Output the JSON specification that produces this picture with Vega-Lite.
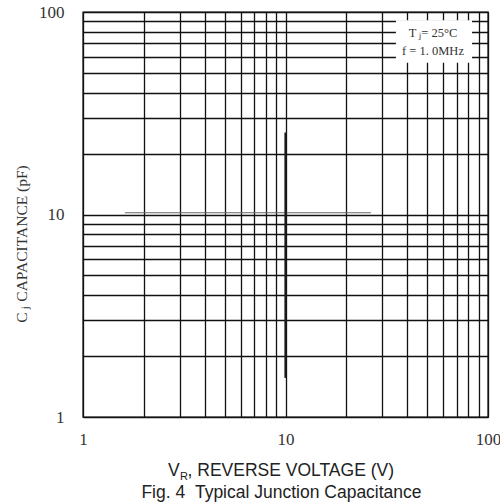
{
  "$schema": "https://vega.github.io/schema/vega-lite/v6.json",
  "width": 405,
  "height": 405,
  "autosize": {"type": "none"},
  "padding": {"left": 83, "top": 12, "right": 12, "bottom": 86},
  "background": "white",
  "config": {
    "view": {"stroke": "#111", "strokeWidth": 1.4},
    "axis": {
      "grid": true,
      "gridColor": "#111",
      "gridWidth": 1.3,
      "gridOpacity": 1,
      "ticks": false,
      "domain": false,
      "labelFont": "Liberation Serif",
      "labelFontSize": 17,
      "labelColor": "#333",
      "labelOverlap": false,
      "labelFlush": false,
      "titleFontWeight": "normal"
    }
  },
  "datasets": {
    "box": [{"v": 35.1, "v2": 83.4, "c": 91.1, "c2": 56.2}],
    "vseg": [{"v": 10, "v2": 10, "c": 1.56, "c2": 25.4}],
    "hseg": [{"v": 1.61, "v2": 26.4, "c": 10.2, "c2": 10.2}],
    "legend": [
      {"v": 53.5, "c": 79.2, "label": "T ⱼ= 25°C"},
      {"v": 53.5, "c": 64.0, "label": "f = 1. 0MHz"}
    ],
    "xtitle": [
      {"v": 2.629, "c": 1, "label": "V", "align": "left"},
      {"v": 34.35, "c": 1, "label": ", REVERSE VOLTAGE (V)", "align": "right"}
    ],
    "xsub": [{"v": 3.013, "c": 1, "label": "R"}],
    "caption": [{"v": 9.555, "c": 1, "label": "Fig. 4\u00a0\u00a0Typical Junction Capacitance"}]
  },
  "encoding": {
    "x": {
      "field": "v", "type": "quantitative",
      "scale": {"type": "log", "domain": [1, 100], "nice": false},
      "axis": {
        "values": [1, 2, 3, 4, 5, 6, 7, 8, 9, 10, 20, 30, 40, 50, 60, 70, 80, 90, 100],
        "format": "d",
        "labelExpr": "(datum.value == 1 || datum.value == 10 || datum.value == 100) ? datum.label : ''",
        "labelPadding": 14,
        "title": null
      }
    },
    "y": {
      "field": "c", "type": "quantitative",
      "scale": {"type": "log", "domain": [1, 100], "nice": false},
      "axis": {
        "values": [1, 2, 3, 4, 5, 6, 7, 8, 9, 10, 20, 30, 40, 50, 60, 70, 80, 90, 100],
        "format": "d",
        "labelExpr": "(datum.value == 1 || datum.value == 10 || datum.value == 100) ? datum.label : ''",
        "labelPadding": 19,
        "title": "C ⱼ CAPACITANCE (pF)",
        "titleFont": "Liberation Serif",
        "titleFontSize": 15.5,
        "titleColor": "#333",
        "titleX": -62,
        "titleY": 231.5,
        "titleBaseline": "middle",
        "titleAlign": "center",
        "titleAngle": 270
      }
    }
  },
  "layer": [
    {
      "data": {"name": "box"},
      "mark": {"type": "rect", "fill": "white", "stroke": null},
      "encoding": {
        "x2": {"field": "v2"},
        "y2": {"field": "c2"}
      }
    },
    {
      "data": {"name": "hseg"},
      "mark": {"type": "rule", "color": "#666", "strokeWidth": 1.2},
      "encoding": {
        "x2": {"field": "v2"},
        "y2": {"field": "c2"}
      }
    },
    {
      "data": {"name": "vseg"},
      "mark": {"type": "rule", "color": "#1a1a1a", "strokeWidth": 2.2},
      "encoding": {
        "x2": {"field": "v2"},
        "y2": {"field": "c2"}
      }
    },
    {
      "data": {"name": "legend"},
      "mark": {"type": "text", "font": "Liberation Serif", "fontSize": 12.5, "color": "#333", "align": "center", "baseline": "middle"},
      "encoding": {
        "text": {"field": "label"}
      }
    },
    {
      "data": {"name": "xtitle"},
      "transform": [{"filter": "datum.align == 'left'"}],
      "mark": {"type": "text", "font": "Liberation Sans", "fontSize": 17.5, "color": "#222", "align": "left", "baseline": "alphabetic", "dy": 59},
      "encoding": {
        "text": {"field": "label"}
      }
    },
    {
      "data": {"name": "xtitle"},
      "transform": [{"filter": "datum.align == 'right'"}],
      "mark": {"type": "text", "font": "Liberation Sans", "fontSize": 17.5, "color": "#222", "align": "right", "baseline": "alphabetic", "dy": 59},
      "encoding": {
        "text": {"field": "label"}
      }
    },
    {
      "data": {"name": "xsub"},
      "mark": {"type": "text", "font": "Liberation Sans", "fontSize": 11, "color": "#222", "align": "left", "baseline": "alphabetic", "dy": 63},
      "encoding": {
        "text": {"field": "label"}
      }
    },
    {
      "data": {"name": "caption"},
      "mark": {"type": "text", "font": "Liberation Sans", "fontSize": 17.5, "color": "#222", "align": "center", "baseline": "alphabetic", "dy": 80.5},
      "encoding": {
        "text": {"field": "label"}
      }
    }
  ]
}
